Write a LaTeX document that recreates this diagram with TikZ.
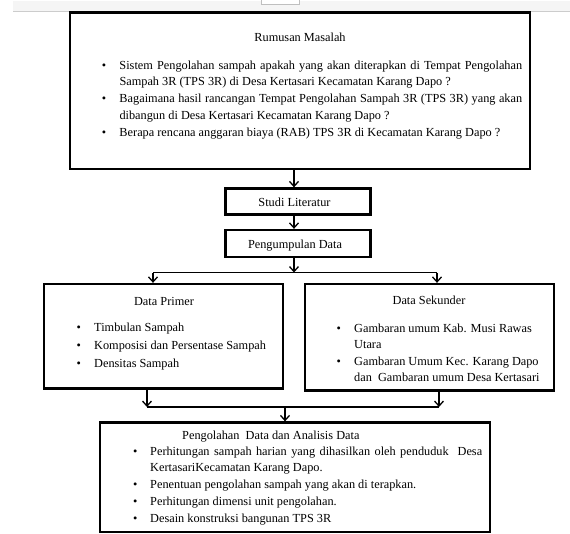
\documentclass[tikz,border=0pt]{standalone}
\usepackage{fontspec}
\setmainfont{Liberation Serif}
\usetikzlibrary{arrows.meta}
\newlength{\bind}
\begin{document}
\begin{tikzpicture}[x=1pt,y=-1pt,
  box/.style={draw, line width=2.3pt, inner sep=0pt},
  conn/.style={line width=1.3pt, -{Straight Barb[length=5pt,width=9pt,line width=1.3pt]}},
  plain/.style={line width=1.3pt},
  txt/.style={inner sep=0pt, font=\fontsize{12.3}{16.75}\selectfont},
]
\useasboundingbox (0,0) rectangle (570,533);
% window strip
\fill[black!4] (13,0.5) rectangle (570,11);
\draw[black!20, line width=0.8pt] (13,11) -- (570,11);
\draw[black!25, line width=0.6pt, fill=white] (261,0) -- (261,4.5) -- (299,4.5) -- (299,0);

% boxes
\node[box, minimum width=460pt, minimum height=156.5pt] (rm) at (300,90.75) {};
\node[box, minimum width=145pt, minimum height=26pt] (studi) at (298,201.5) {};
\node[box, minimum width=145pt, minimum height=27pt] (kumpul) at (298,243.5) {};
\node[box, minimum width=239pt, minimum height=104.5pt] (primer) at (163.5,336.25) {};
\node[box, minimum width=249pt, minimum height=106.5pt] (sekunder) at (429.5,337.25) {};
\node[box, minimum width=390pt, minimum height=109.5pt] (olah) at (295,477.25) {};

% texts
\node[txt, anchor=base] (rmt) at (300,41) {Rumusan Masalah};
\node[txt, anchor=base west] (rmi) at (101.7,69) {\setlength{\bind}{17.6pt}%
\begin{tabular}[t]{@{}p{\bind}@{}l@{}}
\textbullet & \makebox[402.7pt][s]{Sistem Pengolahan sampah apakah yang akan diterapkan di Tempat Pengolahan}\\
 & Sampah 3R (TPS 3R) di Desa Kertasari Kecamatan Karang Dapo ?\\
\textbullet & \makebox[402.7pt][s]{Bagaimana hasil rancangan Tempat Pengolahan Sampah 3R (TPS 3R) yang akan}\\
 & dibangun di Desa Kertasari Kecamatan Karang Dapo ?\\
\textbullet & Berapa rencana anggaran biaya (RAB) TPS 3R di Kecamatan Karang Dapo ?
\end{tabular}};

\node[txt, anchor=base] (studit) at (294.5,206.5) {Studi Literatur};
\node[txt, anchor=base] (kumpult) at (295,248) {Pengumpulan Data};

\node[txt, anchor=base] (primert) at (164,305) {Data Primer};
\node[txt, anchor=base west, font=\fontsize{12.3}{18}\selectfont] (primeri) at (76.5,331) {\setlength{\bind}{17.5pt}%
\begin{tabular}[t]{@{}p{\bind}@{}l@{}}
\textbullet & Timbulan Sampah\\
\textbullet & Komposisi dan Persentase Sampah\\
\textbullet & Densitas Sampah
\end{tabular}};

\node[txt, anchor=base] (sekundert) at (429,304) {Data Sekunder};
\node[txt, anchor=base west, font=\fontsize{12.3}{16.5}\selectfont] (sekunderi) at (336.5,332) {\setlength{\bind}{17.5pt}%
\begin{tabular}[t]{@{}p{\bind}@{}l@{}}
\textbullet & Gambaran umum Kab. Musi Rawas\\
 & Utara\\
\textbullet & Gambaran Umum Kec. Karang Dapo\\
 & dan~ Gambaran umum Desa Kertasari
\end{tabular}};

\node[txt, anchor=base west] (olaht) at (182,439) {Pengolahan~ Data dan Analisis Data};
\node[txt, anchor=base west] (olahi) at (133,455) {\setlength{\bind}{17pt}%
\begin{tabular}[t]{@{}p{\bind}@{}l@{}}
\textbullet & \makebox[332pt][s]{Perhitungan sampah harian yang dihasilkan oleh penduduk~ Desa}\\
 & KertasariKecamatan Karang Dapo.\\
\textbullet & Penentuan pengolahan sampah yang akan di terapkan.\\
\textbullet & Perhitungan dimensi unit pengolahan.\\
\textbullet & Desain konstruksi bangunan TPS 3R
\end{tabular}};

% connector points
\coordinate (ax) at (294,0);
\coordinate (split) at (294,272.5);
\coordinate (sl) at (153,272.5);
\coordinate (sr) at (437,272.5);
\coordinate (jl) at (147,407);
\coordinate (jr) at (439,407);
\coordinate (jm) at (285,407);

% connectors
\draw[conn] (rm.south -| ax) -- (studi.north -| ax);
\draw[conn] (studi.south -| ax) -- (kumpul.north -| ax);
\draw[conn] (kumpul.south -| ax) -- (split);
\draw[plain] (sl) -- (sr);
\draw[conn] (sl) -- (sl |- primer.north);
\draw[conn] (sr) -- (sr |- sekunder.north);
\draw[conn] (jl |- primer.south) -- (jl);
\draw[conn] (jr |- sekunder.south) -- (jr);
\draw[plain] (jl) -- (jr);
\draw[conn] (jm) -- (jm |- olah.north);
\end{tikzpicture}
\end{document}
